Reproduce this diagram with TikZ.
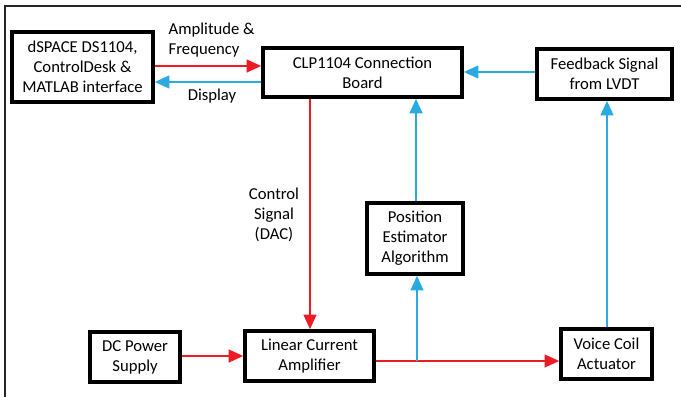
\documentclass[tikz,border=0pt]{standalone}
\usepackage{fontspec}
\setmainfont{Carlito}
\usetikzlibrary{arrows.meta}
\definecolor{sigred}{HTML}{ED1C24}
\definecolor{sigblue}{HTML}{29ABE2}
\definecolor{framegray}{HTML}{262626}
\tikzset{
  every picture/.style={line join=miter, >={Triangle[length=11pt,width=9.5pt]}},
  block/.style={draw, line width=2.6pt, align=center, inner sep=2pt,
    font=\fontsize{12.5}{15}\selectfont},
  lbl/.style={font=\fontsize{12.5}{15}\selectfont},
  redsig/.style={draw=sigred, line width=1.8pt, ->, color=sigred},
  bluesig/.style={draw=sigblue, line width=1.8pt, ->, color=sigblue},
}

\begin{document}
\begin{tikzpicture}[x=0.75pt,y=-0.75pt]
\useasboundingbox (0,0) rectangle (681,396);
\draw[framegray, line width=1.7pt] (5,400) -- (5,6) -- (685,6);
% blocks
\node[block, minimum width=105.75pt, minimum height=52.5pt] (dspace) at (82.5,67)
  {dSPACE DS1104,\\ControlDesk \&\\MATLAB interface};
\node[block, minimum width=149.25pt, minimum height=36.75pt] (clp) at (362.5,72.5)
  {CLP1104 Connection\\Board};
\node[block, minimum width=101.25pt, minimum height=37.5pt] (fb) at (604.5,74)
  {Feedback Signal\\from LVDT};
\node[block, minimum width=72pt, minimum height=53.25pt] (pos) at (415,238.5)
  {Position\\Estimator\\Algorithm};
\node[block, minimum width=68.25pt, minimum height=37.5pt] (vca) at (606.5,354)
  {Voice Coil\\Actuator};
\node[block, minimum width=67.5pt, minimum height=37.5pt] (dc) at (135,357)
  {DC Power\\Supply};
\node[block, minimum width=96.75pt, minimum height=37.5pt] (lca) at (309.5,356)
  {Linear Current\\Amplifier};
\coordinate (split) at (417,361);
% red signals
\draw[redsig] (dspace.east |- 0,66) -- (clp.west |- 0,66);
\draw[redsig] (310,0 |- clp.south) -- (310,0 |- lca.north);
\draw[redsig] (dc.east |- lca.west) -- (lca.west);
\draw[redsig] (lca.east |- split) -- (vca.west |- split);
% blue signals
\draw[bluesig] (clp.west |- 0,82) -- (dspace.east |- 0,82);
\draw[bluesig] (split) -- (pos.south -| split);
\draw[bluesig] (pos.north -| 416,0) -- (clp.south -| 416,0);
\draw[bluesig] (607,0 |- vca.north) -- (607,0 |- fb.south);
\draw[bluesig] (fb.west |- 0,72) -- (clp.east |- 0,72);
% labels
\node[lbl, align=left, anchor=west] (amp) at (164,40) {Amplitude \&\\Frequency};
\node[lbl] (disp) at (212,96) {Display};
\node[lbl, align=center] (ctrl) at (274,215) {Control\\Signal\\(DAC)};
\end{tikzpicture}
\end{document}
